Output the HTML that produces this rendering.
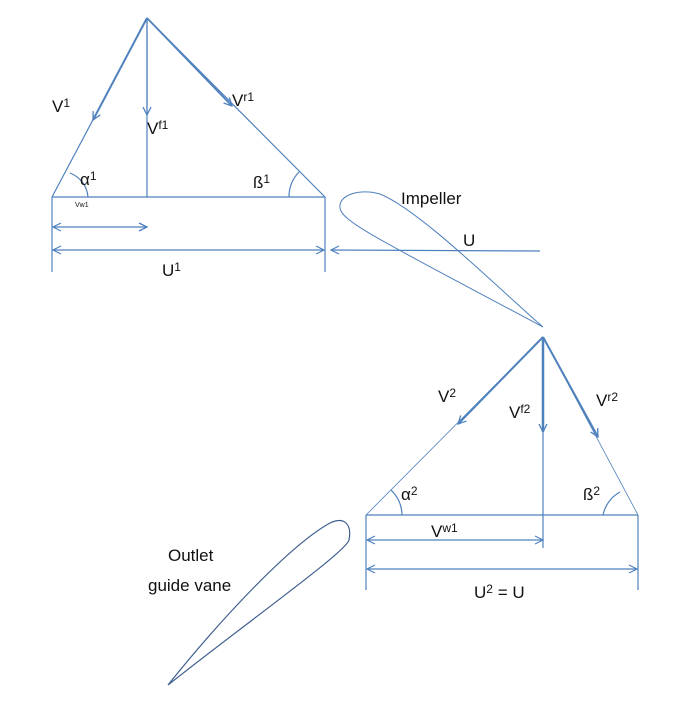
<!DOCTYPE html>
<html><head><style>
body{margin:0;background:#fff;}
svg text{font-family:"Liberation Sans","DejaVu Sans",sans-serif;fill:#111;}
</style></head><body>
<svg width="688" height="704" viewBox="0 0 688 704" xmlns="http://www.w3.org/2000/svg">
<defs>
<marker id="a" markerWidth="10" markerHeight="10" refX="9" refY="5" orient="auto" markerUnits="userSpaceOnUse">
<path d="M1,1 L9,5 L1,9" fill="none" stroke="#4f81bd" stroke-width="1.3"/>
</marker>
</defs>
<g stroke="#4f81bd" fill="none" stroke-width="1.2">
<!-- top triangle -->
<line x1="52" y1="197" x2="325" y2="197"/>
<line x1="147" y1="18" x2="52" y2="197"/>
<line x1="147" y1="18" x2="325" y2="197"/>
<line x1="147" y1="18" x2="147" y2="197"/>
<line x1="147" y1="18" x2="93" y2="120" stroke-width="2" marker-end="url(#a)"/>
<line x1="147" y1="18" x2="147" y2="115" marker-end="url(#a)"/>
<line x1="147" y1="18" x2="232" y2="106" stroke-width="1.8" marker-end="url(#a)"/>
<path d="M70,173 A28,28 0 0 1 88,197"/>
<path d="M289,197 A36,36 0 0 1 299,172"/>
<line x1="52" y1="197" x2="52" y2="272"/>
<line x1="325" y1="197" x2="325" y2="272"/>
<line x1="54" y1="227" x2="147" y2="227" marker-start="url(#a)" marker-end="url(#a)" style="marker-start:none"/>
<path d="M61,223 L53,227 L61,231"/>
<line x1="53" y1="250" x2="324" y2="250"/>
<path d="M61,246 L53,250 L61,254"/>
<path d="M316,246 L324,250 L316,254"/>
<!-- U arrow -->
<line x1="331" y1="250" x2="540" y2="251"/>
<path d="M339,246 L331,250 L339,254"/>
<!-- impeller -->
<path d="M543,327 C500,290 420,210 380,194 C360,188 338,195 340,208 C342,222 380,240 543,327 Z" stroke-width="1"/>
<!-- bottom triangle -->
<line x1="366" y1="515" x2="638" y2="515"/>
<line x1="543" y1="337" x2="366" y2="515" stroke-width="0.8"/>
<line x1="543" y1="337" x2="638" y2="515" stroke-width="0.8"/>
<line x1="543" y1="337" x2="543" y2="548"/>
<line x1="543" y1="337" x2="458" y2="424" stroke-width="2" marker-end="url(#a)"/>
<line x1="543" y1="337" x2="543" y2="432" stroke-width="2.5" marker-end="url(#a)"/>
<line x1="543" y1="337" x2="598" y2="437" stroke-width="2" marker-end="url(#a)"/>
<path d="M391,490 A36,36 0 0 1 402,515"/>
<path d="M603,515 A34,34 0 0 1 620,492"/>
<line x1="366" y1="515" x2="366" y2="590"/>
<line x1="638" y1="515" x2="638" y2="590"/>
<line x1="367" y1="540" x2="543" y2="540"/>
<path d="M375,536 L367,540 L375,544"/>
<path d="M535,536 L543,540 L535,544"/>
<line x1="367" y1="569" x2="637" y2="569"/>
<path d="M375,565 L367,569 L375,573"/>
<path d="M629,565 L637,569 L629,573"/>
<!-- outlet vane -->
<path d="M168,685 C220,620 290,545 330,523 C345,516 352,525 349,540 C346,552 250,620 168,685 Z" stroke="#3f5f8f" stroke-width="1.2"/>
</g>
<g font-size="17">
<text x="52" y="112">V<tspan font-size="12" dy="-5">1</tspan></text>
<text x="147" y="134">V<tspan font-size="12" dy="-5">f1</tspan></text>
<text x="232" y="106">V<tspan font-size="12" dy="-5">r1</tspan></text>
<text x="80" y="185">α<tspan font-size="12" dy="-5">1</tspan></text>
<text x="253" y="188">ß<tspan font-size="12" dy="-5">1</tspan></text>
<text x="75" y="207" font-size="7">Vw1</text>
<text x="162" y="276">U<tspan font-size="12" dy="-5">1</tspan></text>
<text x="401" y="204">Impeller</text>
<text x="463" y="246">U</text>
<text x="438" y="402">V<tspan font-size="12" dy="-5">2</tspan></text>
<text x="509" y="418">V<tspan font-size="12" dy="-5">f2</tspan></text>
<text x="596" y="406">V<tspan font-size="12" dy="-5">r2</tspan></text>
<text x="401" y="500">α<tspan font-size="12" dy="-5">2</tspan></text>
<text x="583" y="500">ß<tspan font-size="12" dy="-5">2</tspan></text>
<text x="431" y="537">V<tspan font-size="12" dy="-5">w1</tspan></text>
<text x="474" y="598">U<tspan font-size="12" dy="-5">2</tspan><tspan dy="5"> = U</tspan></text>
<text x="168" y="561">Outlet</text>
<text x="148" y="591">guide vane</text>
</g>
</svg>
</body></html>
